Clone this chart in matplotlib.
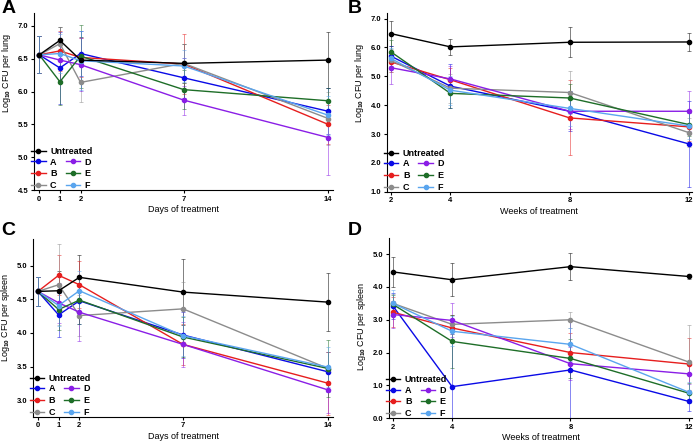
import matplotlib
matplotlib.use("Agg")
import matplotlib.pyplot as plt
from matplotlib.lines import Line2D

plt.rcParams['font.family'] = 'Liberation Sans'
plt.rcParams['font.weight'] = 'bold'
plt.rcParams['mathtext.fontset'] = 'custom'
plt.rcParams['mathtext.bf'] = 'Liberation Sans:bold'
plt.rcParams['mathtext.rm'] = 'Liberation Sans:bold'
plt.rcParams['mathtext.default'] = 'bf'

groups = ['Untreated', 'A', 'B', 'C', 'D', 'E', 'F']
colors = ['#000000', '#0a0ae6', '#e61e1e', '#8c8c8c', '#8a1ee6', '#1e6e28', '#5aa5ee']

days = [0, 1, 2, 7, 14]
weeks = [2, 4, 8, 12]

# -----------------------------
# A: lung, days
# -----------------------------
lung_days_mean = [
    [6.56, 6.78, 6.48, 6.43, 6.48],
    [6.56, 6.36, 6.58, 6.21, 5.70],
    [6.56, 6.62, 6.52, 6.42, 5.50],
    [6.56, 6.73, 6.14, 6.43, 5.59],
    [6.56, 6.48, 6.41, 5.87, 5.30],
    [6.56, 6.15, 6.54, 6.03, 5.86],
    [6.56, 6.58, 6.47, 6.39, 5.64],
]
lung_days_err = [
    [0.28, 0.20, 0.35, 0.30, 0.43],
    [0.28, 0.55, 0.35, 0.30, 0.35],
    [0.28, 0.30, 0.30, 0.45, 0.30],
    [0.28, 0.25, 0.30, 0.30, 0.40],
    [0.28, 0.30, 0.40, 0.22, 0.57],
    [0.28, 0.35, 0.48, 0.30, 0.20],
    [0.28, 0.30, 0.45, 0.25, 0.30],
]

# -----------------------------
# B: lung, weeks
# -----------------------------
lung_weeks_mean = [
    [6.48, 6.02, 6.18, 6.19],
    [5.70, 4.66, 3.79, 2.66],
    [5.50, 4.88, 3.56, 3.25],
    [5.55, 4.59, 4.44, 3.05],
    [5.30, 4.91, 3.79, 3.79],
    [5.85, 4.41, 4.25, 3.33],
    [5.62, 4.52, 3.89, 3.28],
]
lung_weeks_err = [
    [0.43, 0.27, 0.52, 0.30],
    [0.35, 0.75, 0.70, 1.50],
    [0.35, 0.40, 1.30, 0.50],
    [0.40, 0.50, 0.75, 0.50],
    [0.58, 0.45, 0.60, 0.70],
    [0.40, 0.50, 0.50, 0.40],
    [0.35, 0.50, 0.60, 0.45],
]

# -----------------------------
# C: spleen, days
# -----------------------------
spleen_days_mean = [
    [4.62, 4.63, 4.83, 4.61, 4.46],
    [4.62, 4.27, 4.48, 3.97, 3.42],
    [4.62, 4.86, 4.72, 3.83, 3.25],
    [4.62, 4.72, 4.26, 4.36, 3.47],
    [4.62, 4.45, 4.31, 3.83, 3.15],
    [4.62, 4.35, 4.49, 3.94, 3.47],
    [4.62, 4.41, 4.63, 3.96, 3.49],
]
spleen_days_err = [
    [0.22, 0.30, 0.34, 0.49, 0.43],
    [0.22, 0.33, 0.35, 0.35, 0.30],
    [0.22, 0.30, 0.35, 0.30, 0.47],
    [0.22, 0.60, 0.30, 0.40, 0.25],
    [0.22, 0.30, 0.43, 0.33, 0.35],
    [0.22, 0.30, 0.35, 0.30, 0.42],
    [0.22, 0.30, 0.30, 0.30, 0.30],
]

# -----------------------------
# D: spleen, weeks
# -----------------------------
spleen_weeks_mean = [
    [4.46, 4.22, 4.62, 4.32],
    [3.42, 0.96, 1.47, 0.51],
    [3.23, 2.75, 2.00, 1.65],
    [3.50, 2.86, 3.00, 1.71],
    [3.16, 2.98, 1.66, 1.35],
    [3.47, 2.34, 1.82, 0.76],
    [3.50, 2.65, 2.25, 0.79],
]
spleen_weeks_err = [
    [0.45, 0.50, 0.42, 0.08],
    [0.40, 1.60, 1.50, 0.30],
    [0.45, 0.40, 0.60, 0.80],
    [0.30, 0.30, 0.25, 1.14],
    [0.40, 0.52, 0.50, 0.30],
    [0.30, 0.80, 0.60, 0.30],
    [0.40, 0.45, 0.50, 0.30],
]


def draw_panel(ax, x, means, errs):
    for i in range(len(groups)):
        z = 10 if i == 0 else 3 + i
        ax.errorbar(x, means[i], yerr=errs[i], fmt='none', ecolor=colors[i],
                    elinewidth=0.7, capsize=1.2, capthick=0.7, alpha=0.5, zorder=2)
        ax.plot(x, means[i], '-o', color=colors[i], lw=1.0, ms=3,
                label=groups[i], zorder=z, clip_on=False)

    handles = [Line2D([], [], color=c, marker='o', lw=1.0, ms=3) for c in colors]
    leg1 = ax.legend(handles[:1], groups[:1], loc='lower left', bbox_to_anchor=(-0.01, 0.19),
                     frameon=False, fontsize=6.5, handlelength=1.6, handletextpad=0.5,
                     borderaxespad=0, borderpad=0)
    ax.add_artist(leg1)
    ax.legend(handles[1:], groups[1:], loc='lower left', bbox_to_anchor=(-0.01, 0.0),
              ncol=2, frameon=False, fontsize=6.5, handlelength=1.6, handletextpad=0.5,
              columnspacing=1.0, labelspacing=0.3, borderaxespad=0, borderpad=0)


def style(ax, xticks, xlim, yticks, ylim, xlabel, ylabel, ylabel_y):
    ax.set_xlim(xlim)
    ax.set_ylim(ylim)
    ax.set_xticks(xticks)
    ax.set_yticks(yticks)
    ax.set_yticklabels([f"{t:.1f}" for t in yticks])
    for s in ['top', 'right']:
        ax.spines[s].set_visible(False)
    for s in ['left', 'bottom']:
        ax.spines[s].set_linewidth(0.8)
    ax.tick_params(labelsize=5.5, length=2.5, width=0.8, pad=1.5)
    ax.set_xlabel(xlabel, fontsize=6.5, labelpad=2)
    ax.set_ylabel(ylabel, fontsize=6.5)
    ax.yaxis.set_label_coords(-0.07, ylabel_y)


fig = plt.figure(figsize=(6.96, 4.42), dpi=100)

axA = fig.add_axes([0.049, 0.570, 0.430, 0.401])
axB = fig.add_axes([0.556, 0.566, 0.438, 0.405])
axC = fig.add_axes([0.047, 0.057, 0.432, 0.402])
axD = fig.add_axes([0.559, 0.054, 0.435, 0.408])

draw_panel(axA, days, lung_days_mean, lung_days_err)
style(axA, days, (-0.25, 14.25), [4.5, 5.0, 5.5, 6.0, 6.5, 7.0], (4.5, 7.2),
      "Days of treatment", "Log$_{10}$ CFU per lung", 0.66)

draw_panel(axB, weeks, lung_weeks_mean, lung_weeks_err)
style(axB, weeks, (1.87, 12.1), [1.0, 2.0, 3.0, 4.0, 5.0, 6.0, 7.0], (1.0, 7.2),
      "Weeks of treatment", "Log$_{10}$ CFU per lung", 0.61)

draw_panel(axC, days, spleen_days_mean, spleen_days_err)
style(axC, days, (-0.25, 14.25), [3.0, 3.5, 4.0, 4.5, 5.0], (2.75, 5.4),
      "Days of treatment", "Log$_{10}$ CFU per spleen", 0.56)

draw_panel(axD, weeks, spleen_weeks_mean, spleen_weeks_err)
style(axD, weeks, (1.87, 12.1), [0.0, 1.0, 2.0, 3.0, 4.0, 5.0], (0.0, 5.5),
      "Weeks of treatment", "Log$_{10}$ CFU per spleen", 0.51)

for letter, (x, y) in zip("ABCD", [(0.002, 1.0), (0.500, 1.0), (0.002, 0.497), (0.500, 0.497)]):
    fig.text(x, y, letter, fontsize=14, fontweight='bold', va='top', ha='left')

fig.savefig("out.png", dpi=100)
